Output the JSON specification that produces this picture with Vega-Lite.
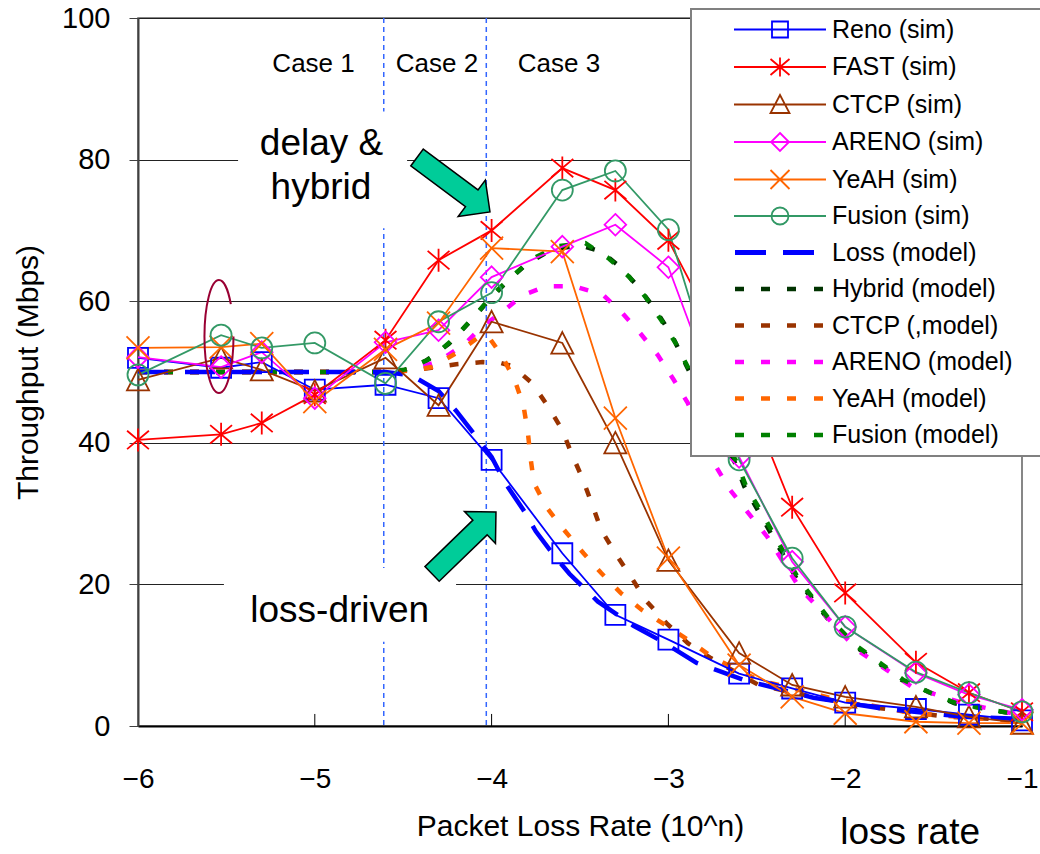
{
  "$schema": "https://vega.github.io/schema/vega-lite/v6.json",
  "width": 884,
  "height": 708,
  "autosize": {"type": "none"},
  "padding": {"left": 138, "top": 18, "right": 18, "bottom": 128},
  "background": "white",
  "config": {
    "view": {"stroke": "#606060", "strokeWidth": 1.5},
    "font": "Liberation Sans",
    "axis": {"labelFont": "Liberation Sans", "titleFont": "Liberation Sans", "titleFontWeight": "normal", "labelColor": "#000", "titleColor": "#000", "labelFlush": false, "labelOverlap": false}
  },
  "datasets": {
    "sim": [
      {"series":"Reno (sim)","x":-6,"y":52.0},{"series":"Reno (sim)","x":-5.53,"y":50.6},{"series":"Reno (sim)","x":-5.3,"y":51.4},{"series":"Reno (sim)","x":-5,"y":47.5},{"series":"Reno (sim)","x":-4.6,"y":48.2},{"series":"Reno (sim)","x":-4.3,"y":46.3},{"series":"Reno (sim)","x":-4,"y":37.6},{"series":"Reno (sim)","x":-3.6,"y":24.4},{"series":"Reno (sim)","x":-3.3,"y":15.7},{"series":"Reno (sim)","x":-3,"y":12.2},{"series":"Reno (sim)","x":-2.6,"y":7.4},{"series":"Reno (sim)","x":-2.3,"y":5.3},{"series":"Reno (sim)","x":-2,"y":3.3},{"series":"Reno (sim)","x":-1.6,"y":2.4},{"series":"Reno (sim)","x":-1.3,"y":1.6},{"series":"Reno (sim)","x":-1,"y":0.8},
      {"series":"FAST (sim)","x":-6,"y":40.4},{"series":"FAST (sim)","x":-5.53,"y":41.2},{"series":"FAST (sim)","x":-5.3,"y":42.8},{"series":"FAST (sim)","x":-5,"y":46.8},{"series":"FAST (sim)","x":-4.6,"y":54.5},{"series":"FAST (sim)","x":-4.3,"y":65.8},{"series":"FAST (sim)","x":-4,"y":70.0},{"series":"FAST (sim)","x":-3.6,"y":78.8},{"series":"FAST (sim)","x":-3.3,"y":75.7},{"series":"FAST (sim)","x":-3,"y":68.6},{"series":"FAST (sim)","x":-2.6,"y":49.5},{"series":"FAST (sim)","x":-2.3,"y":30.9},{"series":"FAST (sim)","x":-2,"y":18.8},{"series":"FAST (sim)","x":-1.6,"y":9.0},{"series":"FAST (sim)","x":-1.3,"y":4.7},{"series":"FAST (sim)","x":-1,"y":2.0},
      {"series":"CTCP (sim)","x":-6,"y":48.9},{"series":"CTCP (sim)","x":-5.53,"y":52.0},{"series":"CTCP (sim)","x":-5.3,"y":50.3},{"series":"CTCP (sim)","x":-5,"y":47.3},{"series":"CTCP (sim)","x":-4.6,"y":52.0},{"series":"CTCP (sim)","x":-4.3,"y":45.3},{"series":"CTCP (sim)","x":-4,"y":57.1},{"series":"CTCP (sim)","x":-3.6,"y":54.1},{"series":"CTCP (sim)","x":-3.3,"y":40.0},{"series":"CTCP (sim)","x":-3,"y":23.4},{"series":"CTCP (sim)","x":-2.6,"y":10.3},{"series":"CTCP (sim)","x":-2.3,"y":5.8},{"series":"CTCP (sim)","x":-2,"y":4.1},{"series":"CTCP (sim)","x":-1.6,"y":2.7},{"series":"CTCP (sim)","x":-1.3,"y":1.3},{"series":"CTCP (sim)","x":-1,"y":0.4},
      {"series":"ARENO (sim)","x":-6,"y":52.1},{"series":"ARENO (sim)","x":-5.53,"y":50.7},{"series":"ARENO (sim)","x":-5.3,"y":52.8},{"series":"ARENO (sim)","x":-5,"y":46.3},{"series":"ARENO (sim)","x":-4.6,"y":54.2},{"series":"ARENO (sim)","x":-4.3,"y":55.9},{"series":"ARENO (sim)","x":-4,"y":63.4},{"series":"ARENO (sim)","x":-3.6,"y":67.7},{"series":"ARENO (sim)","x":-3.3,"y":70.8},{"series":"ARENO (sim)","x":-3,"y":64.8},{"series":"ARENO (sim)","x":-2.6,"y":38.0},{"series":"ARENO (sim)","x":-2.3,"y":23.2},{"series":"ARENO (sim)","x":-2,"y":14.0},{"series":"ARENO (sim)","x":-1.6,"y":7.5},{"series":"ARENO (sim)","x":-1.3,"y":4.4},{"series":"ARENO (sim)","x":-1,"y":2.3},
      {"series":"YeAH (sim)","x":-6,"y":53.4},{"series":"YeAH (sim)","x":-5.53,"y":53.5},{"series":"YeAH (sim)","x":-5.3,"y":54.0},{"series":"YeAH (sim)","x":-5,"y":45.8},{"series":"YeAH (sim)","x":-4.6,"y":53.2},{"series":"YeAH (sim)","x":-4.3,"y":56.9},{"series":"YeAH (sim)","x":-4,"y":67.5},{"series":"YeAH (sim)","x":-3.6,"y":67.0},{"series":"YeAH (sim)","x":-3.3,"y":43.5},{"series":"YeAH (sim)","x":-3,"y":23.7},{"series":"YeAH (sim)","x":-2.6,"y":8.6},{"series":"YeAH (sim)","x":-2.3,"y":4.1},{"series":"YeAH (sim)","x":-2,"y":1.8},{"series":"YeAH (sim)","x":-1.6,"y":0.6},{"series":"YeAH (sim)","x":-1.3,"y":0.4},{"series":"YeAH (sim)","x":-1,"y":0.4},
      {"series":"Fusion (sim)","x":-6,"y":49.6},{"series":"Fusion (sim)","x":-5.53,"y":55.2},{"series":"Fusion (sim)","x":-5.3,"y":53.4},{"series":"Fusion (sim)","x":-5,"y":54.1},{"series":"Fusion (sim)","x":-4.6,"y":48.4},{"series":"Fusion (sim)","x":-4.3,"y":57.1},{"series":"Fusion (sim)","x":-4,"y":61.2},{"series":"Fusion (sim)","x":-3.6,"y":75.7},{"series":"Fusion (sim)","x":-3.3,"y":78.4},{"series":"Fusion (sim)","x":-3,"y":70.1},{"series":"Fusion (sim)","x":-2.6,"y":37.6},{"series":"Fusion (sim)","x":-2.3,"y":23.7},{"series":"Fusion (sim)","x":-2,"y":14.0},{"series":"Fusion (sim)","x":-1.6,"y":7.6},{"series":"Fusion (sim)","x":-1.3,"y":4.7},{"series":"Fusion (sim)","x":-1,"y":2.0}
    ],
    "model": [
      {"series":"Loss (model)","x":-6,"y":50},{"series":"Loss (model)","x":-5,"y":50},{"series":"Loss (model)","x":-4.6,"y":50},{"series":"Loss (model)","x":-4.45,"y":49.5},{"series":"Loss (model)","x":-4.3,"y":47.3},{"series":"Loss (model)","x":-4.2,"y":44.5},{"series":"Loss (model)","x":-4.1,"y":41.3},{"series":"Loss (model)","x":-4.0,"y":38.0},{"series":"Loss (model)","x":-3.92,"y":34.2},{"series":"Loss (model)","x":-3.82,"y":30.5},{"series":"Loss (model)","x":-3.75,"y":27.5},{"series":"Loss (model)","x":-3.65,"y":24.2},{"series":"Loss (model)","x":-3.56,"y":21.5},{"series":"Loss (model)","x":-3.4,"y":17.6},{"series":"Loss (model)","x":-3.2,"y":14.2},{"series":"Loss (model)","x":-3.04,"y":12.0},{"series":"Loss (model)","x":-2.84,"y":8.9},{"series":"Loss (model)","x":-2.56,"y":6.4},{"series":"Loss (model)","x":-2.18,"y":4.0},{"series":"Loss (model)","x":-1.8,"y":2.5},{"series":"Loss (model)","x":-1.33,"y":1.3},{"series":"Loss (model)","x":-1,"y":1.0},
      {"series":"Hybrid (model)","x":-6,"y":50},{"series":"Hybrid (model)","x":-4.6,"y":50},{"series":"Hybrid (model)","x":-4.49,"y":50.3},{"series":"Hybrid (model)","x":-4.37,"y":51.6},{"series":"Hybrid (model)","x":-4.24,"y":54.0},{"series":"Hybrid (model)","x":-4.12,"y":57.2},{"series":"Hybrid (model)","x":-4.01,"y":60.3},{"series":"Hybrid (model)","x":-3.92,"y":62.6},{"series":"Hybrid (model)","x":-3.8,"y":65.3},{"series":"Hybrid (model)","x":-3.66,"y":67.3},{"series":"Hybrid (model)","x":-3.5,"y":67.9},{"series":"Hybrid (model)","x":-3.38,"y":67.0},{"series":"Hybrid (model)","x":-3.28,"y":65.0},{"series":"Hybrid (model)","x":-3.18,"y":62.3},{"series":"Hybrid (model)","x":-3.08,"y":59.0},{"series":"Hybrid (model)","x":-2.98,"y":55.2},{"series":"Hybrid (model)","x":-2.9,"y":51.0},{"series":"Hybrid (model)","x":-2.75,"y":43.5},{"series":"Hybrid (model)","x":-2.62,"y":37.0},{"series":"Hybrid (model)","x":-2.57,"y":33.8},{"series":"Hybrid (model)","x":-2.49,"y":30.3},{"series":"Hybrid (model)","x":-2.27,"y":20.6},{"series":"Hybrid (model)","x":-2.1,"y":15.2},{"series":"Hybrid (model)","x":-1.94,"y":11.2},{"series":"Hybrid (model)","x":-1.68,"y":6.5},{"series":"Hybrid (model)","x":-1.38,"y":3.2},{"series":"Hybrid (model)","x":-1,"y":1.5},
      {"series":"CTCP (,model)","x":-6,"y":50},{"series":"CTCP (,model)","x":-4.6,"y":50},{"series":"CTCP (,model)","x":-4.45,"y":50.2},{"series":"CTCP (,model)","x":-4.34,"y":50.6},{"series":"CTCP (,model)","x":-4.2,"y":51.1},{"series":"CTCP (,model)","x":-4.05,"y":51.4},{"series":"CTCP (,model)","x":-3.95,"y":51.3},{"series":"CTCP (,model)","x":-3.88,"y":50.8},{"series":"CTCP (,model)","x":-3.77,"y":48.4},{"series":"CTCP (,model)","x":-3.68,"y":45.1},{"series":"CTCP (,model)","x":-3.6,"y":41.8},{"series":"CTCP (,model)","x":-3.55,"y":38.6},{"series":"CTCP (,model)","x":-3.49,"y":35.2},{"series":"CTCP (,model)","x":-3.43,"y":31.2},{"series":"CTCP (,model)","x":-3.38,"y":27.7},{"series":"CTCP (,model)","x":-3.3,"y":24.4},{"series":"CTCP (,model)","x":-3.21,"y":21.0},{"series":"CTCP (,model)","x":-3.13,"y":17.8},{"series":"CTCP (,model)","x":-3.01,"y":14.5},{"series":"CTCP (,model)","x":-2.89,"y":11.7},{"series":"CTCP (,model)","x":-2.76,"y":9.6},{"series":"CTCP (,model)","x":-2.49,"y":5.8},{"series":"CTCP (,model)","x":-2.18,"y":4.1},{"series":"CTCP (,model)","x":-1.8,"y":2.5},{"series":"CTCP (,model)","x":-1.42,"y":1.3},{"series":"CTCP (,model)","x":-1,"y":0.8},
      {"series":"ARENO (model)","x":-6,"y":50},{"series":"ARENO (model)","x":-4.6,"y":50},{"series":"ARENO (model)","x":-4.45,"y":50.3},{"series":"ARENO (model)","x":-4.3,"y":51.5},{"series":"ARENO (model)","x":-4.15,"y":54.0},{"series":"ARENO (model)","x":-4.05,"y":56.5},{"series":"ARENO (model)","x":-3.95,"y":58.3},{"series":"ARENO (model)","x":-3.82,"y":60.9},{"series":"ARENO (model)","x":-3.69,"y":62.1},{"series":"ARENO (model)","x":-3.53,"y":62.1},{"series":"ARENO (model)","x":-3.37,"y":60.9},{"series":"ARENO (model)","x":-3.26,"y":58.3},{"series":"ARENO (model)","x":-3.16,"y":55.5},{"series":"ARENO (model)","x":-3.06,"y":52.4},{"series":"ARENO (model)","x":-2.97,"y":48.9},{"series":"ARENO (model)","x":-2.89,"y":45.6},{"series":"ARENO (model)","x":-2.81,"y":41.0},{"series":"ARENO (model)","x":-2.73,"y":36.6},{"series":"ARENO (model)","x":-2.65,"y":33.3},{"series":"ARENO (model)","x":-2.44,"y":26.7},{"series":"ARENO (model)","x":-2.26,"y":19.6},{"series":"ARENO (model)","x":-1.93,"y":10.7},{"series":"ARENO (model)","x":-1.62,"y":5.5},{"series":"ARENO (model)","x":-1.33,"y":3.2},{"series":"ARENO (model)","x":-1,"y":1.5},
      {"series":"YeAH (model)","x":-6,"y":50},{"series":"YeAH (model)","x":-4.6,"y":50},{"series":"YeAH (model)","x":-4.45,"y":50.2},{"series":"YeAH (model)","x":-4.34,"y":50.7},{"series":"YeAH (model)","x":-4.19,"y":52.8},{"series":"YeAH (model)","x":-4.08,"y":54.8},{"series":"YeAH (model)","x":-4.02,"y":55.1},{"series":"YeAH (model)","x":-3.94,"y":52.2},{"series":"YeAH (model)","x":-3.87,"y":48.9},{"series":"YeAH (model)","x":-3.82,"y":45.3},{"series":"YeAH (model)","x":-3.795,"y":41.5},{"series":"YeAH (model)","x":-3.78,"y":37.9},{"series":"YeAH (model)","x":-3.76,"y":34.3},{"series":"YeAH (model)","x":-3.69,"y":30.9},{"series":"YeAH (model)","x":-3.59,"y":27.7},{"series":"YeAH (model)","x":-3.48,"y":24.4},{"series":"YeAH (model)","x":-3.38,"y":21.6},{"series":"YeAH (model)","x":-3.27,"y":18.8},{"series":"YeAH (model)","x":-3.15,"y":16.4},{"series":"YeAH (model)","x":-3.02,"y":14.3},{"series":"YeAH (model)","x":-2.89,"y":12.2},{"series":"YeAH (model)","x":-2.75,"y":9.7},{"series":"YeAH (model)","x":-2.49,"y":6.5},{"series":"YeAH (model)","x":-2.09,"y":4.0},{"series":"YeAH (model)","x":-1.62,"y":1.8},{"series":"YeAH (model)","x":-1,"y":0.6},
      {"series":"Fusion (model)","x":-6,"y":50},{"series":"Fusion (model)","x":-4.6,"y":50},{"series":"Fusion (model)","x":-4.47,"y":50.4},{"series":"Fusion (model)","x":-4.34,"y":52.0},{"series":"Fusion (model)","x":-4.21,"y":54.8},{"series":"Fusion (model)","x":-4.1,"y":57.8},{"series":"Fusion (model)","x":-3.99,"y":61.0},{"series":"Fusion (model)","x":-3.89,"y":63.4},{"series":"Fusion (model)","x":-3.77,"y":66.0},{"series":"Fusion (model)","x":-3.62,"y":67.8},{"series":"Fusion (model)","x":-3.47,"y":68.2},{"series":"Fusion (model)","x":-3.34,"y":66.1},{"series":"Fusion (model)","x":-3.22,"y":63.4},{"series":"Fusion (model)","x":-3.13,"y":60.6},{"series":"Fusion (model)","x":-3.04,"y":57.3},{"series":"Fusion (model)","x":-2.96,"y":54.1},{"series":"Fusion (model)","x":-2.89,"y":50.7},{"series":"Fusion (model)","x":-2.75,"y":43.6},{"series":"Fusion (model)","x":-2.61,"y":37.1},{"series":"Fusion (model)","x":-2.56,"y":33.8},{"series":"Fusion (model)","x":-2.48,"y":30.5},{"series":"Fusion (model)","x":-2.26,"y":20.6},{"series":"Fusion (model)","x":-2.1,"y":15.4},{"series":"Fusion (model)","x":-1.93,"y":11.2},{"series":"Fusion (model)","x":-1.67,"y":6.5},{"series":"Fusion (model)","x":-1.52,"y":4.7},{"series":"Fusion (model)","x":-1.37,"y":3.2},{"series":"Fusion (model)","x":-1,"y":1.5}
    ],
    "vlines": [{"x": -4.61}, {"x": -4.03}],
    "xticks": [{"x": -5, "y": 0, "y2": 1.7}, {"x": -4, "y": 0, "y2": 1.7}, {"x": -3, "y": 0, "y2": 1.7}, {"x": -2, "y": 0, "y2": 1.7}],
    "boxes": [
      {"x": -5.434, "x2": -4.478, "y": 86.8, "y2": 70.3},
      {"x": -5.514, "x2": -4.201, "y": 22.3, "y2": 11.9}
    ],
    "arrows": [
      {"name": "delay", "x": -4.2155, "y": 76.45},
      {"name": "loss", "x": -4.156, "y": 25.85}
    ],
    "ellipse": [{"x": -5.542, "y": 55.0}],
    "labels": [
      {"kind": "case", "text": "Case 1", "x": -5.007, "y": 92.4},
      {"kind": "case", "text": "Case 2", "x": -4.309, "y": 92.4},
      {"kind": "case", "text": "Case 3", "x": -3.619, "y": 92.4},
      {"kind": "note", "text": "delay &", "x": -4.962, "y": 80.6},
      {"kind": "note", "text": "hybrid", "x": -4.965, "y": 74.4},
      {"kind": "note", "text": "loss-driven", "x": -4.859, "y": 14.7},
      {"kind": "note", "text": "loss rate", "x": -1.633, "y": -16.6}
    ]
  },
  "layer": [
    {
      "data": {"name": "model"},
      "transform": [{"filter": "datum.series !== 'Loss (model)'"}],
      "mark": {"type": "line", "strokeWidth": 4.5, "strokeCap": "butt", "strokeDash": [9, 17]},
      "encoding": {
        "x": {"field": "x", "type": "quantitative", "scale": {"domain": [-6, -1], "nice": false, "zero": false},
          "axis": {"values": [-6, -5, -4, -3, -2, -1], "format": "d", "grid": false, "ticks": false, "domainColor": "#000", "domainWidth": 2, "labelFontSize": 28, "labelPadding": 39, "labelBaseline": "top", "title": "Packet Loss Rate (10^n)", "titleFontSize": 30, "titleX": 442, "titleY": 100, "titleAlign": "center", "titleBaseline": "middle"}},
        "y": {"field": "y", "type": "quantitative", "scale": {"domain": [0, 100], "nice": false},
          "axis": {"values": [0, 20, 40, 60, 80, 100], "grid": true, "gridColor": "#222", "gridWidth": 1, "tickSize": 9, "tickColor": "#404040", "domainColor": "#404040", "domainWidth": 2, "labelFontSize": 29, "labelPadding": 19, "title": "Throughput (Mbps)", "titleFontSize": 30, "titleX": -110, "titleY": 354, "titleAngle": -90, "titleAlign": "center", "titleBaseline": "middle"}},
        "color": {"field": "series", "type": "nominal",
          "scale": {"domain": ["Reno (sim)","FAST (sim)","CTCP (sim)","ARENO (sim)","YeAH (sim)","Fusion (sim)","Loss (model)","Hybrid (model)","CTCP (,model)","ARENO (model)","YeAH (model)","Fusion (model)"],
                    "range": ["#0000FF","#FF0000","#993300","#FF00FF","#FF6600","#339966","#0000FF","#003300","#993300","#FF00FF","#FF6600","#008000"]},
          "legend": {
            "orient": "none", "legendX": 553, "legendY": -9, "title": null,
            "symbolSize": 400, "symbolStrokeWidth": 1.8, "symbolOffset": 68.5, "labelOffset": 39.5,
            "labelFont": "Liberation Sans", "labelFontSize": 25, "labelColor": "#000", "labelLimit": 400,
            "rowPadding": 10.5, "padding": 8,
            "fillColor": "white", "strokeColor": "#808080",
            "encode": {
              "legend": {"update": {"strokeWidth": {"value": 2}}},
              "symbols": {"update": {
                "shape": {"signal": "datum.value === 'Reno (sim)' ? 'M-4.6,0L4.6,0M-0.8,-0.8L0.8,-0.8L0.8,0.8L-0.8,0.8ZM27,0' : datum.value === 'FAST (sim)' ? 'M-4.6,0L4.6,0M0,-0.95L0,0.95M-0.95,-0.8L0.95,0.8M-0.95,0.8L0.95,-0.8M27,0' : datum.value === 'CTCP (sim)' ? 'M-4.6,0L4.6,0M0,-0.95L0.95,0.85L-0.95,0.85ZM27,0' : datum.value === 'ARENO (sim)' ? 'M-4.6,0L4.6,0M0,-0.9L0.9,0L0,0.9L-0.9,0ZM27,0' : datum.value === 'YeAH (sim)' ? 'M-4.6,0L4.6,0M-0.95,-0.95L0.95,0.95M-0.95,0.95L0.95,-0.95M27,0' : datum.value === 'Fusion (sim)' ? 'M-4.6,0L4.6,0M0.85,0C0.85,0.469 0.469,0.85 0,0.85C-0.469,0.85 -0.85,0.469 -0.85,0C-0.85,-0.469 -0.469,-0.85 0,-0.85C0.469,-0.85 0.85,-0.469 0.85,0ZM27,0' : datum.value === 'Loss (model)' ? 'M-4.41,-0.16L-1.49,-0.16L-1.49,0.16L-4.41,0.16ZM0.39,-0.16L3.31,-0.16L3.31,0.16L0.39,0.16ZM27,0' : 'M-4.41,-0.135L-3.69,-0.135L-3.69,0.135L-4.41,0.135ZM-1.81,-0.135L-1.09,-0.135L-1.09,0.135L-1.81,0.135ZM0.79,-0.135L1.51,-0.135L1.51,0.135L0.79,0.135ZM3.49,-0.135L4.21,-0.135L4.21,0.135L3.49,0.135ZM27,0'"},
                "fill": {"signal": "indexof(datum.value, 'model') >= 0 ? scale('color', datum.value) : 'transparent'"},
                "opacity": {"value": 1}
              }}
            }
          }}
      }
    },
    {
      "data": {"name": "vlines"},
      "mark": {"type": "rule", "color": "#3366FF", "strokeDash": [5, 4], "strokeWidth": 1.5},
      "encoding": {
        "x": {"field": "x", "type": "quantitative", "scale": {"domain": [-6, -1], "nice": false, "zero": false}}
      }
    },
    {
      "data": {"name": "xticks"},
      "mark": {"type": "rule", "color": "#000", "strokeWidth": 1},
      "encoding": {
        "x": {"field": "x", "type": "quantitative", "scale": {"domain": [-6, -1], "nice": false, "zero": false}},
        "y": {"field": "y", "type": "quantitative", "scale": {"domain": [0, 100], "nice": false}},
        "y2": {"field": "y2"}
      }
    },
    {
      "data": {"name": "boxes"},
      "mark": {"type": "rect", "color": "white", "opacity": 1},
      "encoding": {
        "x": {"field": "x", "type": "quantitative", "scale": {"domain": [-6, -1], "nice": false, "zero": false}},
        "x2": {"field": "x2"},
        "y": {"field": "y", "type": "quantitative", "scale": {"domain": [0, 100], "nice": false}},
        "y2": {"field": "y2"}
      }
    },
    {
      "data": {"name": "model"},
      "transform": [{"filter": "datum.series === 'Loss (model)'"}],
      "mark": {"type": "line", "strokeWidth": 4.5, "strokeCap": "butt", "strokeDash": [30, 17]},
      "encoding": {
        "x": {"field": "x", "type": "quantitative", "scale": {"domain": [-6, -1], "nice": false, "zero": false}},
        "y": {"field": "y", "type": "quantitative", "scale": {"domain": [0, 100], "nice": false}},
        "color": {"field": "series", "type": "nominal"}
      }
    },
    {
      "data": {"name": "sim"},
      "mark": {"type": "line", "strokeWidth": 1.8},
      "encoding": {
        "x": {"field": "x", "type": "quantitative", "scale": {"domain": [-6, -1], "nice": false, "zero": false}},
        "y": {"field": "y", "type": "quantitative", "scale": {"domain": [0, 100], "nice": false}},
        "color": {"field": "series", "type": "nominal"}
      }
    },
    {
      "data": {"name": "sim"},
      "mark": {"type": "point", "filled": false, "strokeWidth": 1.8, "size": 529, "opacity": 1},
      "encoding": {
        "x": {"field": "x", "type": "quantitative", "scale": {"domain": [-6, -1], "nice": false, "zero": false}},
        "y": {"field": "y", "type": "quantitative", "scale": {"domain": [0, 100], "nice": false}},
        "color": {"field": "series", "type": "nominal"},
        "shape": {"field": "series", "type": "nominal", "legend": null,
          "scale": {"domain": ["Reno (sim)","FAST (sim)","CTCP (sim)","ARENO (sim)","YeAH (sim)","Fusion (sim)"],
                    "range": ["M-0.87,-0.87L0.87,-0.87L0.87,0.87L-0.87,0.87Z",
                              "M0,-1L0,1M-0.95,-0.8L0.95,0.8M-0.95,0.8L0.95,-0.8",
                              "M0,-0.95L0.96,0.92L-0.96,0.92Z",
                              "M0,-0.94L0.94,0L0,0.94L-0.94,0Z",
                              "M-1,-1L1,1M-1,1L1,-1",
                              "M0.913,0C0.913,0.504 0.504,0.913 0,0.913C-0.504,0.913 -0.913,0.504 -0.913,0C-0.913,-0.504 -0.504,-0.913 0,-0.913C0.504,-0.913 0.913,-0.504 0.913,0Z"]}}
      }
    },
    {
      "data": {"name": "arrows"},
      "transform": [{"filter": "datum.name === 'delay'"}],
      "mark": {"type": "point", "shape": "M-1,-0.23L0.5,-0.23L0.5,-0.5L1,0L0.5,0.5L0.5,0.23L-1,0.23Z", "size": 8281, "angle": 36.7, "filled": true, "fill": "#00CC99", "stroke": "#000000", "strokeWidth": 1.5, "opacity": 1},
      "encoding": {
        "x": {"field": "x", "type": "quantitative", "scale": {"domain": [-6, -1], "nice": false, "zero": false}},
        "y": {"field": "y", "type": "quantitative", "scale": {"domain": [0, 100], "nice": false}}
      }
    },
    {
      "data": {"name": "arrows"},
      "transform": [{"filter": "datum.name === 'loss'"}],
      "mark": {"type": "point", "shape": "M-1,-0.23L0.5,-0.23L0.5,-0.5L1,0L0.5,0.5L0.5,0.23L-1,0.23Z", "size": 7921, "angle": 315.9, "filled": true, "fill": "#00CC99", "stroke": "#000000", "strokeWidth": 1.5, "opacity": 1},
      "encoding": {
        "x": {"field": "x", "type": "quantitative", "scale": {"domain": [-6, -1], "nice": false, "zero": false}},
        "y": {"field": "y", "type": "quantitative", "scale": {"domain": [0, 100], "nice": false}}
      }
    },
    {
      "data": {"name": "ellipse"},
      "mark": {"type": "point", "shape": "M0.257,0C0.257,0.552 0.142,1 0,1C-0.142,1 -0.257,0.552 -0.257,0C-0.257,-0.552 -0.142,-1 0,-1C0.084,-1 0.162,-0.841 0.21,-0.574", "size": 12769, "filled": false, "stroke": "#990033", "strokeWidth": 2, "opacity": 1},
      "encoding": {
        "x": {"field": "x", "type": "quantitative", "scale": {"domain": [-6, -1], "nice": false, "zero": false}},
        "y": {"field": "y", "type": "quantitative", "scale": {"domain": [0, 100], "nice": false}}
      }
    },
    {
      "data": {"name": "labels"},
      "transform": [{"filter": "datum.kind === 'case'"}],
      "mark": {"type": "text", "font": "Liberation Sans", "fontSize": 26, "color": "#000", "align": "center", "baseline": "alphabetic"},
      "encoding": {
        "x": {"field": "x", "type": "quantitative", "scale": {"domain": [-6, -1], "nice": false, "zero": false}},
        "y": {"field": "y", "type": "quantitative", "scale": {"domain": [0, 100], "nice": false}},
        "text": {"field": "text"}
      }
    },
    {
      "data": {"name": "labels"},
      "transform": [{"filter": "datum.kind === 'note'"}],
      "mark": {"type": "text", "font": "Liberation Sans", "fontSize": 37, "color": "#000", "align": "center", "baseline": "alphabetic"},
      "encoding": {
        "x": {"field": "x", "type": "quantitative", "scale": {"domain": [-6, -1], "nice": false, "zero": false}},
        "y": {"field": "y", "type": "quantitative", "scale": {"domain": [0, 100], "nice": false}},
        "text": {"field": "text"}
      }
    }
  ]
}
